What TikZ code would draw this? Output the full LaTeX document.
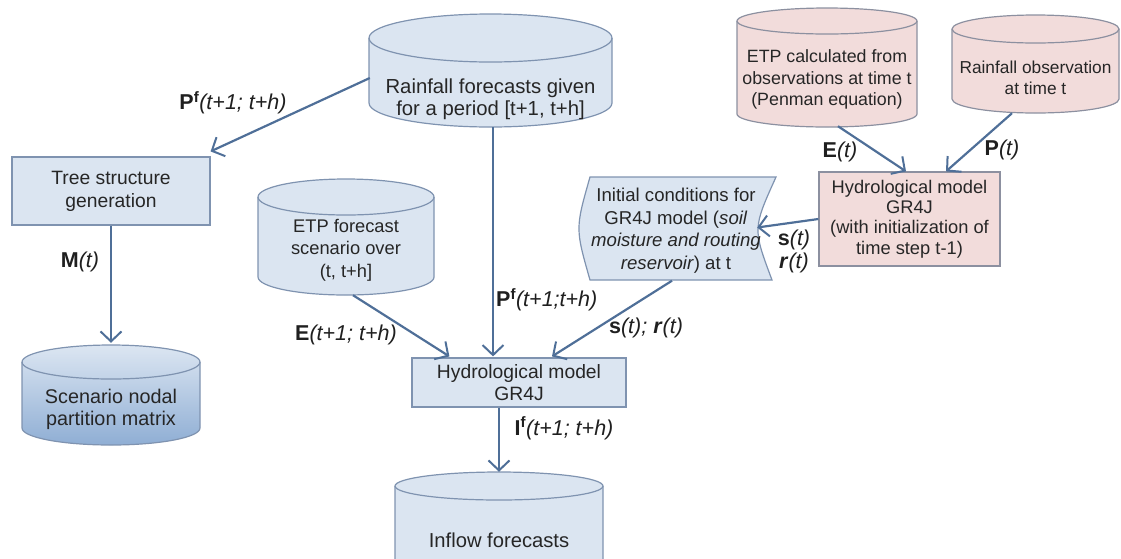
\documentclass[tikz,border=0pt]{standalone}
\usepackage{fontspec}
\setmainfont{Liberation Sans}
\usetikzlibrary{arrows.meta,calc}

\definecolor{boxblue}{HTML}{DBE5F1}
\definecolor{boxpink}{HTML}{F2DCDB}
\definecolor{edgeblue}{HTML}{7F93B0}
\definecolor{edgepink}{HTML}{8C90A0}
\definecolor{flow}{HTML}{4F6F98}
\definecolor{ink}{HTML}{262626}
\definecolor{shadetop}{HTML}{DCE6F2}
\definecolor{shadebot}{HTML}{8FAED4}

\tikzset{
  fs/.style 2 args={font=\fontsize{#1}{#2}\selectfont},
  txt/.style={fs={19.8}{22}, text=ink, align=center, inner sep=0pt},
  lbl/.style={fs={21.5}{23}, text=black!88, align=center, inner sep=0pt},
  flowarrow/.style={draw=flow, line width=2.2pt,
    -{Straight Barb[length=10pt,width=21pt,line width=2pt]}},
  bluebody/.style={fill=boxblue, draw=edgeblue, line width=1.2pt},
  pinkbody/.style={fill=boxpink, draw=edgepink, line width=1.2pt},
  shadedbody/.style={top color=shadetop, bottom color=shadebot, draw=edgeblue, line width=1.2pt},
  bluerect/.style={txt, rectangle, bluebody},
  pinkrect/.style={txt, rectangle, pinkbody},
}

% storage drum: #1 name, #2 body style, #3 edge colour,
% #4 left x, #5 right x, #6 top y, #7 bottom y, #8 vertical radius of the ends
\newcommand\drum[8]{%
  \pgfmathsetmacro\drumrx{(#5-#4)/2}%
  \pgfmathsetmacro\drumya{#6+#8}%
  \pgfmathsetmacro\drumyb{#7-#8}%
  \pgfmathsetmacro\drumcx{(#4+#5)/2}%
  \pgfmathsetmacro\drumcy{(#6+#7)/2}%
  \pgfmathsetmacro\drumw{#5-#4}%
  \pgfmathsetmacro\drumh{#7-#6}%
  \path[#2] (#4,\drumya) -- (#4,\drumyb)
    arc[start angle=180,end angle=360,x radius=\drumrx pt,y radius=#8pt]
    -- (#5,\drumya)
    arc[start angle=0,end angle=180,x radius=\drumrx pt,y radius=#8pt] -- cycle;
  \draw[draw=#3, line width=1.2pt] (#4,\drumya)
    arc[start angle=180,end angle=360,x radius=\drumrx pt,y radius=#8pt];
  \node[inner sep=0pt, minimum width=\drumw pt, minimum height=\drumh pt] (#1)
    at (\drumcx,\drumcy) {};%
}

\begin{document}
\begin{tikzpicture}[x=1pt,y=-1pt]
\useasboundingbox (0,0) rectangle (1121,558);
\clip (0,0) rectangle (1121,558);

% storage drums
\drum{rf}{bluebody}{edgeblue}{369}{612}{14}{127}{24}
\node[txt, fs={20.3}{22}] (rfText) at (490.5,99) {Rainfall forecasts given\\for a period [t+1, t+h]};

\drum{ef}{bluebody}{edgeblue}{258}{434}{179}{295}{18}
\node[txt, fs={18.3}{22.5}] (efText) at (346,250) {ETP forecast\\scenario over\\(t, t+h]};

\drum{scen}{shadedbody}{edgeblue}{22}{200}{345}{445}{17}
\node[txt, fs={19.8}{22}] (scenText) at (111,409) {Scenario nodal\\partition matrix};

\drum{inf}{bluebody}{edgeblue}{395}{603}{472}{580}{14}
\node[txt, fs={20.2}{22}] (infText) at (499,540) {Inflow forecasts};

\drum{ec}{pinkbody}{edgepink}{737}{917}{8}{127}{13}
\node[txt, fs={17.8}{21.5}] (ecText) at (827,79.5) {ETP calculated from\\observations at time t\\(Penman equation)};

\drum{ro}{pinkbody}{edgepink}{952}{1119}{15}{113}{14}
\node[txt, fs={17.3}{20.5}] (roText) at (1035.5,78) {Rainfall observation\\at time t};

% process boxes
\node[bluerect, fs={19.3}{23}, minimum width=198pt, minimum height=68pt] (tree) at (111,191)
  {Tree structure\\generation};
\node[bluerect, fs={19.3}{21.5}, minimum width=214pt, minimum height=49pt] (gr) at (519,382.5)
  {Hydrological model\\GR4J};
\node[pinkrect, fs={18.3}{20.4}, minimum width=181pt, minimum height=94pt] (ph) at (909.5,219)
  {Hydrological model\\GR4J\\(with initialization of\\time step t-1)};

% stored initial state
\path[bluebody] (590,177) -- (776,177) .. controls (752.7,228.5) .. (772,280)
  -- (590,280) .. controls (575.3,228.5) .. (590,177) -- cycle;
\node[txt, fs={18.6}{22.6}, minimum width=197pt, minimum height=103pt] (ic) at (676,230.5)
  {Initial conditions for\\GR4J model (\textit{soil}\\\textit{moisture and routing}\\\textit{reservoir}) at t};

% flows
\draw[flowarrow] ($(rf.west)+(1,7.5)$) -- ($(tree.north east)+(0,-5)$);
\draw[flowarrow] ($(rf.south)+(2.5,0)$) -- ($(gr.north)+(-26,-1)$);
\draw[flowarrow] (tree.south) -- ($(scen.north)+(0,-2)$);
\draw[flowarrow] ($(ef.south)+(7,0)$) -- ($(gr.north west)+(38,-1)$);
\draw[flowarrow] ($(ic.south)+(-4,-1.5)$) -- ($(gr.north)+(33,-1)$);
\draw[flowarrow] (ph.west) -- ($(ic.east)+(-17.5,-3)$);
\draw[flowarrow] ($(ec.south)+(11,-1)$) -- ($(ph.north)+(-3.5,0)$);
\draw[flowarrow] ($(ro.south)+(-23.5,0)$) -- ($(ph.north)+(36.5,0)$);
\draw[flowarrow] (gr.south -| inf.north) -- (inf.north);

% flow labels
\node[lbl] (lpf1) at (233,103) {\textbf{P}\textsuperscript{\textbf{f}}\textit{(t+1; t+h)}};
\node[lbl] (lm) at (80,262) {\textbf{M}\textit{(t)}};
\node[lbl, anchor=west] (lpf2) at (496,300) {\textbf{P}\textsuperscript{\textbf{f}}\textit{(t+1;t+h)}};
\node[lbl] (le1) at (346,335) {\textbf{E}\textit{(t+1; t+h)}};
\node[lbl] (lsr) at (646,328) {\textbf{s}\textit{(t); }\textbf{\textit{r}}\textit{(t)}};
\node[lbl] (lsr2) at (794,251.5) {\textbf{s}\textit{(t)}\\\textbf{\textit{r}}\textit{(t)}};
\node[lbl] (le) at (840,152) {\textbf{E}\textit{(t)}};
\node[lbl] (lp) at (1002,150) {\textbf{P}\textit{(t)}};
\node[lbl] (li) at (564,428) {\textbf{I}\textsuperscript{\textbf{f}}\textit{(t+1; t+h)}};
\end{tikzpicture}
\end{document}
